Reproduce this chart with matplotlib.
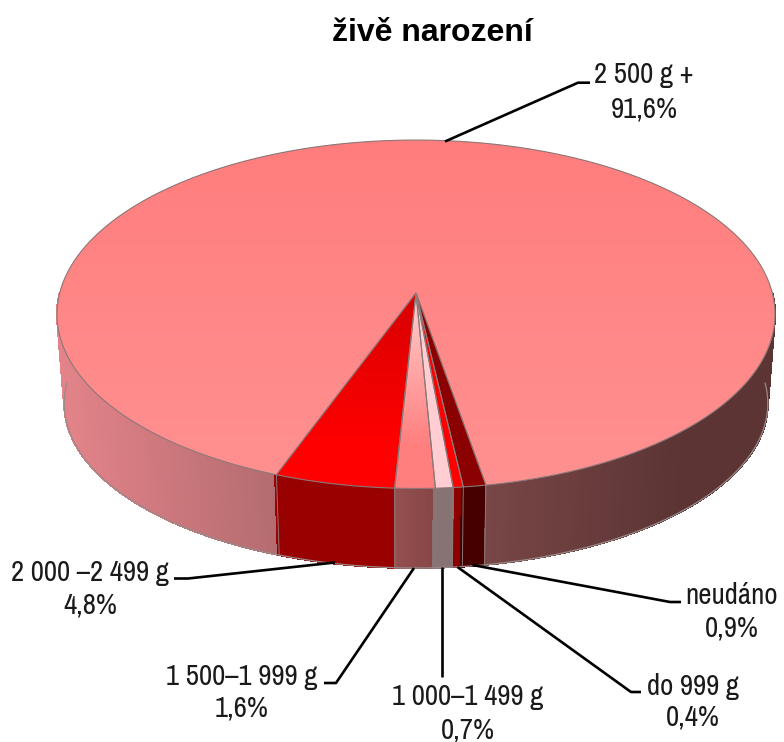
#!/usr/bin/env python3
"""3D pie chart of live births by birth weight, drawn as projected polygons."""

import numpy as np
import matplotlib
matplotlib.use("Agg")
import matplotlib.pyplot as plt
from matplotlib import font_manager
from matplotlib.colors import LinearSegmentedColormap
from matplotlib.patches import Polygon

TITLE = "živě narození"
categories = ["2 000 –2 499 g", "1 500–1 999 g", "1 000–1 499 g", "do 999 g", "neudáno", "2 500 g +"]
shares = [4.8, 1.6, 0.7, 0.4, 0.9, 91.6]
share_labels = ["4,8%", "1,6%", "0,7%", "0,4%", "0,9%", "91,6%"]

# top face colours: apex end, rim end
top_colors = [("#d80000", "#ff0000"), ("#ffcfcf", "#ff7f7f"), ("#ffcdd2", "#ffcdd2"),
              ("#ff0000", "#ff0000"), ("#8b0000", "#8b0000"), ("#ff7d7d", "#ff9191")]
side_colors = [("#990000", "#990000"), ("#955050", "#874646"), ("#877373", "#877373"),
               ("#8c0000", "#8c0000"), ("#460000", "#460000")]

CX, CY = 416.0, 293.0
RX, RY, K = 356.3, 171.6, 0.122
START = -20.3


def rim(deg):
    a = np.radians(deg)
    w = 1 - K * np.cos(a)
    return CX + RX * np.sin(a) / w, CY + RY * np.cos(a) / w


def base(deg):
    x, y = rim(deg)
    return CX + 0.98 * (x - CX), 383.3 + 0.945 * (y - CY)


def blend(pair, t):
    a = np.array(matplotlib.colors.to_rgb(pair[0]))
    b = np.array(matplotlib.colors.to_rgb(pair[1]))
    return a + (b - a) * t


def gradient_poly(ax, pts, pair, y0, y1, zorder):
    """fill a polygon with a vertical gradient running from y0 to y1"""
    poly = Polygon(pts, closed=True, facecolor="none", edgecolor="#8c7878", linewidth=0.8, zorder=zorder + 0.1)
    ax.add_patch(poly)
    cmap = LinearSegmentedColormap.from_list("g", list(pair))
    grad = np.linspace(0, 1, 256).reshape(-1, 1)
    im = ax.imshow(grad, cmap=cmap, extent=(0, 784, y1, y0), aspect="auto", zorder=zorder, interpolation="bilinear")
    im.set_clip_path(poly)
    # outside the gradient band the polygon keeps the end colours
    fill = Polygon(pts, closed=True, facecolor=pair[1] if pts[:, 1].max() > y1 else pair[0], edgecolor="none", zorder=zorder - 0.1)
    ax.add_patch(fill)


def main():
    names = {f.name for f in font_manager.fontManager.ttflist}
    narrow, label_size = "Liberation Sans", 17
    for fam in ("Liberation Sans Narrow", "Archivo Narrow"):
        if fam in names:
            narrow, label_size = fam, 20.8
            break

    fig = plt.figure(figsize=(7.84, 7.42), dpi=100)
    ax = fig.add_axes([0, 0, 1, 1])

    spans = np.array(shares) * 3.6
    edges = START + np.concatenate([[0], np.cumsum(spans)])

    # side wall: the big slice shades with x, the small ones keep their own colour
    for d0 in np.arange(-90, 90, 0.5):
        d1 = d0 + 0.5
        mid = (d0 + d1) / 2
        xm = rim(mid)[0]
        idx = np.searchsorted(edges[1:6], mid)
        if idx < 5 and mid >= edges[0]:
            t = (mid - edges[idx]) / spans[idx]
            c = blend(side_colors[idx], t)
        elif xm < 300:
            c = blend(("#e4848a", "#b46c70"), (xm - 57) / 219)
        else:
            c = blend(("#784646", "#5c3434"), min((xm - 486) / 200, 1))
        q = np.array([rim(d0), rim(d1), base(d1), base(d0)])
        ax.add_patch(Polygon(q, closed=True, facecolor=c, edgecolor=c, linewidth=0.8, antialiased=False, zorder=2))

    # outlines of the wall
    ang = np.arange(-90, 90.5, 0.5)
    ax.plot(*zip(*[base(d) for d in ang]), color="#9a8a8a", lw=0.9, zorder=2.5)
    for d in edges[:6]:
        xa, ya = rim(d)
        xb, yb = base(d)
        ax.plot([xa, xb], [ya, yb], color="#8c7878", lw=0.7, zorder=2.5)

    # top face, big slice first so the narrow ones sit on it
    arc = np.linspace(edges[5], edges[6], 500)
    big = np.array([(CX, CY)] + [rim(d) for d in arc])
    gradient_poly(ax, big, top_colors[5], 140, 489, 3)
    for i in range(5):
        arc = np.linspace(edges[i], edges[i + 1], 30)
        pts = np.array([(CX, CY)] + [rim(d) for d in arc])
        gradient_poly(ax, pts, top_colors[i], CY, 445, 4)

    # leader lines, pixel route of each label
    leaders = [[(174, 578.5), (188, 578.5), (335, 562.5)],
               [(324, 683), (336, 683), (414, 568)],
               [(442.5, 567), (442.5, 677)],
               [(457.5, 567), (631, 692), (641, 692)],
               [(472.5, 565), (670, 602), (681, 602)],
               [(445, 141.5), (578, 82.7), (590, 82.7)]]
    for route in leaders:
        xs, ys = zip(*route)
        ax.plot(xs, ys, color="black", lw=1.9, zorder=6, solid_capstyle="butt")

    # label centres: name line, share line
    anchors = [(90, 573, 605), (242, 677, 708), (468, 697, 730),
               (693, 687, 717), (732, 595, 628), (644, 75, 109)]
    for name, share, (x, y1, y2) in zip(categories, share_labels, anchors):
        ax.text(x, y1, name, family=narrow, fontsize=label_size, color="#1a1a1a", ha="center", va="center", zorder=7)
        ax.text(x, y2, share, family=narrow, fontsize=label_size, color="#1a1a1a", ha="center", va="center", zorder=7)

    ax.text(432, 33, TITLE, family="Liberation Sans", fontweight="bold", fontsize=23, color="black",
            ha="center", va="center", zorder=7)

    ax.set_xlim(0, 784)
    ax.set_ylim(742, 0)
    ax.axis("off")
    fig.savefig("out.png", dpi=100, facecolor="white")


if __name__ == "__main__":
    main()
